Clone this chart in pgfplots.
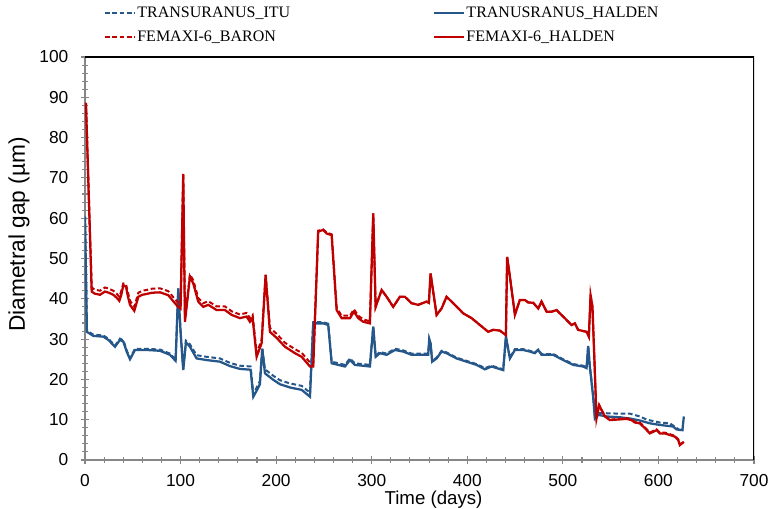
\documentclass[border=0pt]{standalone}
\usepackage{fontspec}
\setmainfont{Liberation Sans}
\newfontfamily\legendfont{Liberation Serif}
\usepackage{pgfplots}
\pgfplotsset{compat=1.18}
\usepackage{pgfplotstable}
\definecolor{cred}{RGB}{192,0,0}
\definecolor{cblue}{RGB}{37,87,138}
\definecolor{axgray}{RGB}{134,134,134}

\pgfplotstableread{
t v
0 60.4
2 32.1
8.7 31.1
19.2 30.9
24.4 30.1
31.4 28.4
36.6 30.1
40.1 29.7
43.6 27.2
47.1 25.3
52.3 27.6
64.5 27.6
78.5 27.4
88.9 26.4
94.8 24.9
97.6 42.6
100.1 31.4
102.8 22.5
105.6 29.6
109.8 28.7
116.8 26.0
127.3 25.6
141.2 25.2
151.7 24.1
162.1 23.4
173.3 23.2
176.1 16.3
179.6 18.0
183.0 19.6
185.5 27.8
188.3 22.5
197 20.9
204 19.8
214.4 19.0
226.7 18.4
235.4 16.7
238.8 34.2
249.3 34.2
254.5 33.8
258.1 24.4
272 23.6
277.2 25.2
282.4 24.0
298.1 23.6
301.6 33.1
304.1 25.9
308.6 26.8
315.6 26.4
324.3 27.6
333 27.2
341.7 26.4
353.9 26.4
359.1 26.4
360.2 30.0
361.6 28.9
363.3 24.6
367.9 25.4
373.1 27.1
378.3 26.7
388.8 25.4
399.2 24.6
409.7 23.8
418.4 22.8
425.4 23.4
437.6 22.5
440.4 30.6
444.6 25.4
449.8 27.5
458.5 27.5
465.5 27.1
470.7 26.7
474.2 27.4
477.7 26.3
489.9 26.3
500.3 25.0
510.8 23.8
521.2 23.4
524.8 23.0
526.5 28.3
528.2 23.4
531.7 16.0
533.5 11.0
537 11.6
545.7 11.6
559.6 11.5
570.1 11.5
580.5 10.8
588 10.0
601.5 9.3
612 9.1
617 8.3
622 7.4
626 7.4
}\itu

\pgfplotstableread{
t v
0 60.4
2 31.8
8.7 30.8
19.2 30.6
24.4 29.8
31.4 28.1
36.6 29.8
40.1 29.4
43.6 26.9
47.1 25.0
52.3 27.3
64.5 27.3
78.5 27.1
88.9 26.1
94.8 24.6
97.6 42.6
100.1 31.4
102.8 22.3
105.6 29.2
109.8 28.1
116.8 25.2
127.3 24.8
141.2 24.4
151.7 23.3
162.1 22.6
173.3 22.4
176.1 15.7
179.6 17.2
183.0 18.8
185.5 27.6
188.3 21.5
197 19.9
204 18.8
214.4 18.0
226.7 17.4
235.4 15.7
238.8 33.9
249.3 33.9
254.5 33.5
258.1 24.0
272 23.2
277.2 24.8
282.4 23.6
298.1 23.2
301.6 33.1
304.1 25.6
308.6 26.5
315.6 26.1
324.3 27.3
333 26.9
341.7 26.1
353.9 26.1
359.1 26.1
360.2 30.0
361.6 28.9
363.3 24.4
367.9 25.2
373.1 26.9
378.3 26.5
388.8 25.2
399.2 24.4
409.7 23.6
418.4 22.5
425.4 23.2
437.6 22.3
440.4 30.6
444.6 25.2
449.8 27.3
458.5 27.3
465.5 26.9
470.7 26.5
474.2 27.3
477.7 26.1
489.9 26.1
500.3 24.8
510.8 23.6
521.2 23.2
524.8 22.8
526.5 28.3
528.2 23.2
531.7 15.7
533.5 10.3
537 11.2
545.7 10.8
559.6 10.6
570.1 10.3
580.5 9.8
591 9.1
601.5 8.7
615.4 8.3
618.9 7.6
625.1 7.4
626.6 10.8
}\thalden

\pgfplotstableread{
t v
1 88.6
7 42.8
10 42.3
15.7 42.0
20.9 42.8
25 42.5
29.6 42.0
33 41.3
35.9 40.5
38 42.0
40.1 43.8
42.9 43.6
45 41.5
47.1 39.5
51.6 38.0
55.8 41.5
60 42.0
64.5 42.2
70 42.5
78.5 42.6
87.1 41.9
94.1 39.9
97.6 39.0
100 38.5
102.8 71.0
104.6 35.0
109.8 46.0
113.3 44.6
118.5 40.2
123.7 38.9
129 39.4
137.8 38.1
146.4 38.1
153.5 36.9
162.1 36.1
169.1 36.5
172.6 35.2
175.4 36.0
179.6 26.5
184.8 29.8
189 46.0
193.5 32.8
200.5 31.3
209.2 29.1
219.7 27.5
226.7 26.6
235.4 24.2
238.8 23.8
244 56.9
249.3 57.2
252.8 56.4
258.1 56.0
263.3 37.8
268.5 35.8
277.2 35.8
281.4 37.4
285.9 35.8
291.1 34.9
298.1 34.4
301.6 61.2
304.1 38.0
310.4 42.2
315.6 40.5
322.5 38.0
329.5 40.5
334.7 40.5
341.7 38.9
348.6 38.5
357.4 39.3
359.8 39.0
361.6 46.3
363.3 43.4
367.9 36.0
373.1 37.6
378.3 40.5
385.3 38.9
395.7 36.4
404.5 35.2
413.2 33.5
421.9 31.8
427.1 32.3
434.1 32.1
440.4 31.0
441.7 50.4
444.6 45.5
449.8 36.0
455 39.7
460.3 39.7
463.7 39.1
469 39.0
474.2 37.6
477.7 39.3
483 36.8
488.2 36.8
493.4 37.2
500.3 35.6
509.1 33.5
512.6 33.9
516 32.3
524.8 31.8
527.2 30.6
529 40.9
531 38.0
535.2 10.6
538 13.6
540.5 12.4
544 11.0
549.2 10.0
566.6 10.4
571.8 10.0
575.3 9.5
580.5 9.3
585.8 8.1
591 6.8
594.5 7.2
598 7.6
601.5 6.8
606.7 6.8
612 6.4
617.2 6.0
620.6 5.2
622.4 4.0
624 4.1
626.6 4.5
}\baron

\pgfplotstableread{
t v
1 88.6
7 41.8
10 41.3
15.7 41.0
20.9 41.8
25 41.5
29.6 41.0
33 40.3
35.9 39.5
38 41.0
40.1 43.4
42.9 43.0
45 40.5
47.1 38.5
51.6 37.0
55.8 40.5
60 41.0
64.5 41.2
70 41.5
78.5 41.6
87.1 40.9
94.1 38.9
97.6 38.0
100 37.6
102.8 71.0
104.6 34.3
109.8 45.5
113.3 43.8
118.5 39.3
123.7 38.0
129 38.5
137.8 37.2
146.4 37.2
153.5 36.0
162.1 35.2
169.1 35.6
172.6 34.3
175.4 35.2
179.6 25.6
184.8 29.0
189 45.9
193.5 31.8
200.5 30.3
209.2 28.1
219.7 26.5
226.7 25.6
235.4 23.2
238.8 23.2
244 56.7
249.3 57.1
252.8 56.2
258.1 55.8
263.3 37.2
268.5 35.2
277.2 35.2
281.4 36.8
285.9 35.2
291.1 34.3
298.1 33.9
301.6 61.2
304.1 38.0
310.4 42.2
315.6 40.5
322.5 38.0
329.5 40.5
334.7 40.5
341.7 38.9
348.6 38.5
357.4 39.3
359.8 39.0
361.6 46.3
363.3 43.4
367.9 36.0
373.1 37.6
378.3 40.5
385.3 38.9
395.7 36.4
404.5 35.2
413.2 33.5
421.9 31.8
427.1 32.3
434.1 32.1
440.4 31.0
441.7 50.4
444.6 45.5
449.8 36.0
455 39.7
460.3 39.7
463.7 39.1
469 39.0
474.2 37.6
477.7 39.3
483 36.8
488.2 36.8
493.4 37.2
500.3 35.6
509.1 33.5
512.6 33.9
516 32.3
524.8 31.8
527.2 30.6
529 40.9
531 38.0
535.2 10.3
538 13.6
540.5 12.4
544 10.8
549.2 9.9
566.6 10.2
571.8 9.9
575.3 9.3
580.5 9.1
585.8 7.9
591 6.6
594.5 7.0
598 7.4
601.5 6.6
606.7 6.6
612 6.2
617.2 5.8
620.6 5.0
622.4 3.7
624 4.0
626.6 4.5
}\fhalden

\begin{document}
\begin{tikzpicture}
\begin{axis}[
  width=501.75pt, height=302.25pt, scale only axis,
  xmin=0, xmax=700, ymin=0, ymax=100,
  xtick={0,100,...,700}, ytick={0,10,...,100},
  minor x tick num=4, minor y tick num=4,
  axis x line*=bottom, axis y line*=left,
  axis line style={-, axgray, line width=1.1pt},
  tick pos=left,
  tick align=center,
  major tick length=6pt, minor tick length=4pt,
  tick style={axgray, line width=0.8pt},
  /pgf/number format/assume math mode=true,
  ticklabel style={font=\fontsize{13}{15}\selectfont, black},
  xticklabel style={yshift=-4pt},
  yticklabel style={xshift=-6pt},
  xlabel={Time (days)}, ylabel={Diametral gap (µm)},
  xlabel style={font=\fontsize{14}{16}\selectfont, at={(axis description cs:0.521,-0.0975)}, anchor=center},
  ylabel style={font=\fontsize{17}{19}\selectfont, at={(axis description cs:-0.0987,0.56)}, anchor=center},
  legend columns=2,
  legend cell align=left,
  legend image code/.code={\draw[#1] (0pt,0pt) -- (22.5pt,0pt);},
  legend style={font=\legendfont\fontsize{12}{14}\selectfont, draw=none, fill=none,
    at={(axis description cs:0.028,1.1274)}, anchor=north west, inner sep=0pt,
    nodes={inner sep=0pt, text height=8.5pt, text depth=2.5pt},
    row sep=7pt,
    /tikz/every odd column/.append style={column sep=1pt},
    /tikz/every even column/.append style={column sep=107pt}},
]
\addplot[cblue, line width=1.5pt, dash pattern=on 3.5pt off 2pt] table[x=t,y=v] {\itu};
\addlegendentry{TRANSURANUS\_ITU}
\addplot[cblue, line width=1.7pt] table[x=t,y=v] {\thalden};
\addlegendentry{TRANUSRANUS\_HALDEN}
\addplot[cred, line width=1.5pt, dash pattern=on 3.5pt off 2pt] table[x=t,y=v] {\baron};
\addlegendentry{FEMAXI-6\_BARON}
\addplot[cred, line width=1.7pt] table[x=t,y=v] {\fhalden};
\addlegendentry{FEMAXI-6\_HALDEN}
\draw[black, line width=1.1pt] (rel axis cs:0,1) -- (rel axis cs:1,1) -- (rel axis cs:1,0);
\coordinate (ll) at (rel axis cs:0,0);
\coordinate (ur) at (rel axis cs:1,1);
\end{axis}
\pgfresetboundingbox
\path ([shift={(-63.75pt,-36.75pt)}]ll) rectangle ([shift={(12pt,42.75pt)}]ur);
\end{tikzpicture}
\end{document}
